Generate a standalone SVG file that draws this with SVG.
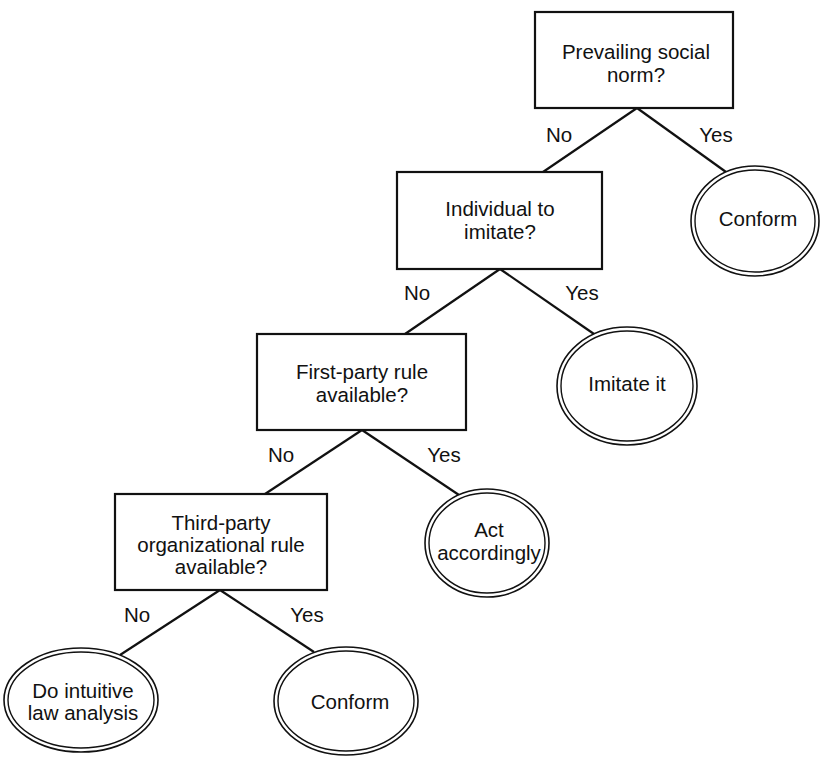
<svg xmlns="http://www.w3.org/2000/svg" width="821" height="757" viewBox="0 0 821 757">
<style>
text{font-family:"Liberation Sans",Arial,sans-serif;font-size:20.5px;fill:#111;text-anchor:middle}
.box{fill:#fff;stroke:#111;stroke-width:2.2}
.eo{fill:#fff;stroke:#111;stroke-width:1.6}
.ei{fill:none;stroke:#111;stroke-width:1.4}
.conn line{stroke:#111;stroke-width:2.2}
</style>
<rect width="821" height="757" fill="#fff"/>
<g class="conn" id="connectors">
<line x1="637" y1="108" x2="543" y2="172"/>
<line x1="637" y1="108" x2="726" y2="172"/>
<line x1="500" y1="269" x2="405" y2="334"/>
<line x1="500" y1="269" x2="594" y2="334"/>
<line x1="362" y1="430" x2="265" y2="494"/>
<line x1="362" y1="430" x2="459" y2="495"/>
<line x1="220" y1="590" x2="120" y2="655"/>
<line x1="220" y1="590" x2="314" y2="652"/>
</g>
<g id="labels">
<text x="559" y="142">No</text>
<text x="716" y="142">Yes</text>
<text x="417" y="300">No</text>
<text x="582" y="300">Yes</text>
<text x="281" y="462">No</text>
<text x="444" y="462">Yes</text>
<text x="137" y="622">No</text>
<text x="307" y="622">Yes</text>
</g>
<g id="q1">
<rect class="box" x="535" y="12" width="198" height="96"/>
<text x="636" y="59">Prevailing social</text>
<text x="636" y="82">norm?</text>
</g>
<g id="q2">
<rect class="box" x="397" y="172" width="205" height="97"/>
<text x="500" y="216">Individual to</text>
<text x="500" y="239">imitate?</text>
</g>
<g id="q3">
<rect class="box" x="257" y="334" width="209" height="96"/>
<text x="362" y="379">First-party rule</text>
<text x="362" y="402">available?</text>
</g>
<g id="q4">
<rect class="box" x="115" y="494" width="212" height="96"/>
<text x="221" y="530">Third-party</text>
<text x="221" y="552">organizational rule</text>
<text x="221" y="574">available?</text>
</g>
<g id="a1">
<ellipse class="eo" cx="755" cy="221" rx="64" ry="55"/>
<ellipse class="ei" cx="755" cy="221" rx="60" ry="51"/>
<text x="758" y="226">Conform</text>
</g>
<g id="a2">
<ellipse class="eo" cx="627" cy="386" rx="70" ry="59"/>
<ellipse class="ei" cx="627" cy="386" rx="66" ry="55"/>
<text x="627" y="391">Imitate it</text>
</g>
<g id="a3">
<ellipse class="eo" cx="487" cy="543" rx="62" ry="54"/>
<ellipse class="ei" cx="487" cy="543" rx="58" ry="50"/>
<text x="489" y="537">Act</text>
<text x="489" y="560">accordingly</text>
</g>
<g id="a4">
<ellipse class="eo" cx="81" cy="700" rx="77" ry="52"/>
<ellipse class="ei" cx="81" cy="700" rx="73" ry="48"/>
<text x="83" y="698">Do intuitive</text>
<text x="83" y="720">law analysis</text>
</g>
<g id="a5">
<ellipse class="eo" cx="346" cy="701" rx="72" ry="54"/>
<ellipse class="ei" cx="346" cy="701" rx="68" ry="50"/>
<text x="350" y="709">Conform</text>
</g>
</svg>
